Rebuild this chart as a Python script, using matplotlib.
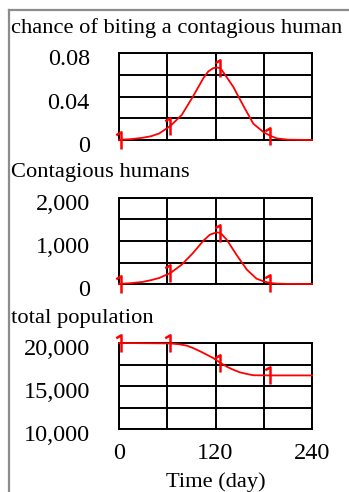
import numpy as np
import matplotlib
matplotlib.use("Agg")
import matplotlib.pyplot as plt
from matplotlib.path import Path
from matplotlib.transforms import ScaledTranslation

# --- data -------------------------------------------------------------
bite_t = [0, 3, 15, 29, 40, 50, 64, 78, 92, 105, 111, 117, 121, 126, 130,
          142, 155, 167, 180, 188, 196, 210, 240]
bite_v = [0.0, 0.0003, 0.0008, 0.002, 0.0035, 0.006, 0.013, 0.023, 0.040,
          0.057, 0.063, 0.066, 0.0668, 0.066, 0.062, 0.049, 0.031, 0.015,
          0.007, 0.004, 0.0015, 0.0003, 0.0]

cont_t = [0, 3, 15, 29, 40, 50, 64, 78, 92, 105, 113, 121, 126, 134, 146,
          159, 171, 180, 188, 196, 210, 240]
cont_v = [0, 5, 20, 47, 90, 140, 256, 450, 720, 1008, 1147, 1200, 1190,
          1030, 682, 333, 124, 60, 25, 8, 2, 0]

pop_t = [0, 3, 64, 75, 84, 92, 101, 110, 117, 126, 135, 142, 150, 159,
         167, 188, 240]
pop_v = [20000, 20000, 19950, 19850, 19700, 19420, 19030, 18600, 18260,
         17700, 17200, 16900, 16600, 16400, 16250, 16230, 16230]

mark_times = [3, 64, 126, 188]

titles = ["chance of biting a contagious human", "Contagious humans",
          "total population"]
ylims = [(0, 0.08), (0, 2000), (10000, 20000)]
ytick_labels = [["0", "0.04", "0.08"], ["0", "1,000", "2,000"],
                ["10,000", "15,000", "20,000"]]
xtick_labels = ["0", "120", "240"]
xlabel = "Time (day)"

# --- style ------------------------------------------------------------
plt.rcParams["font.family"] = ["Liberation Serif", "DejaVu Serif"]
FS_TITLE = 16.2
FS_TICK = 17.5

# "1"-shaped series marker
one_marker = Path([(-0.32, 0.32), (0.0, 0.5), (0.0, -0.55)],
                  [Path.MOVETO, Path.LINETO, Path.LINETO])

W, H = 349, 492
fig = plt.figure(figsize=(W / 100, H / 100), dpi=100)

# outer frame (left and top edges)
fig.add_artist(plt.Line2D([9 / W, 9 / W], [0, 1 - 10 / H],
                          color="#8c8c8c", lw=1.6, transform=fig.transFigure))
fig.add_artist(plt.Line2D([9 / W, 1], [1 - 10 / H, 1 - 10 / H],
                          color="#8c8c8c", lw=1.6, transform=fig.transFigure))

boxes = [(53, 140), (198, 284), (343, 429)]  # top, bottom in pixels
title_y = [28, 173, 319]
series = [(bite_t, bite_v), (cont_t, cont_v), (pop_t, pop_v)]
left, right = 119, 312

for i in range(3):
    top, bot = boxes[i]
    ax = fig.add_axes([left / W, 1 - bot / H, (right - left) / W,
                       (bot - top) / H])
    lo, hi = ylims[i]
    ax.set_xlim(0, 240)
    ax.set_ylim(lo, hi)
    ax.set_xticks([0, 120, 240])
    ax.set_xticks([60, 180], minor=True)
    ax.set_yticks([lo, (lo + hi) / 2, hi])
    ax.set_yticks([lo + (hi - lo) / 4, lo + 3 * (hi - lo) / 4], minor=True)
    ax.grid(True, which="both", color="black", lw=1.4)
    ax.set_axisbelow(True)
    for sp in ax.spines.values():
        sp.set_color("black")
        sp.set_linewidth(1.4)
    ax.tick_params(which="both", length=0)
    ax.set_yticklabels(ytick_labels[i], fontsize=FS_TICK)
    ax.tick_params(axis="y", pad=21)
    for lab in ax.get_yticklabels():
        lab.set_transform(lab.get_transform() +
                          ScaledTranslation(0, -3 / 72, fig.dpi_scale_trans))
    if i == 2:
        ax.set_xticklabels(xtick_labels, fontsize=FS_TICK)
        ax.tick_params(axis="x", pad=10)
        ax.set_xlabel(xlabel, fontsize=FS_TITLE, labelpad=6)
    else:
        ax.set_xticklabels([])

    t, v = series[i]
    idx = [t.index(m) for m in mark_times]
    ax.plot(t, v, color="red", lw=1.3, clip_on=False, zorder=5,
            marker=one_marker, markevery=idx, markersize=13,
            markeredgewidth=1.8, markerfacecolor="none",
            markeredgecolor="red")

    fig.text(11 / W, 1 - title_y[i] / H, titles[i], fontsize=FS_TITLE,
             ha="left", va="center")

fig.savefig("out.png", dpi=100)
